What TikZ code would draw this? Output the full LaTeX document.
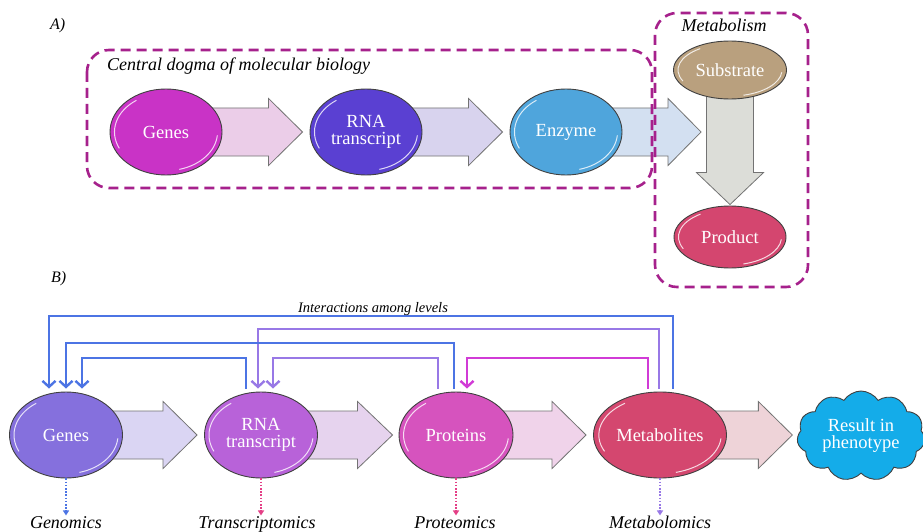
\documentclass[tikz,border=0pt]{standalone}
\usepackage{fontspec}
\setmainfont{Liberation Serif}
\usetikzlibrary{calc,shapes.geometric,shapes.symbols,arrows.meta}

% fills of the ellipses
\definecolor{cGenesA}{HTML}{C933C6}
\definecolor{cRnaA}{HTML}{5A40D2}
\definecolor{cEnzyme}{HTML}{4FA5DC}
\definecolor{cSubstrate}{HTML}{B9A07E}
\definecolor{cProduct}{HTML}{D4466F}
\definecolor{cGenesB}{HTML}{8570DD}
\definecolor{cRnaB}{HTML}{B862D9}
\definecolor{cProtB}{HTML}{D653BE}
\definecolor{cMetB}{HTML}{D4476F}
\definecolor{cCloud}{HTML}{14ACE9}
% block arrow fills
\definecolor{fA1}{HTML}{EBCDE8}
\definecolor{fA2}{HTML}{D8D3EE}
\definecolor{fA3}{HTML}{D3E0F1}
\definecolor{fDown}{HTML}{DCDDD8}
\definecolor{fB1}{HTML}{DAD5F3}
\definecolor{fB2}{HTML}{E6D3EE}
\definecolor{fB3}{HTML}{F0D3EA}
\definecolor{fB4}{HTML}{EED3D8}
% lines
\definecolor{cDash}{HTML}{A6218C}
\definecolor{cBlue}{HTML}{4C74E4}
\definecolor{cViolet}{HTML}{9878E6}
\definecolor{cMagenta}{HTML}{D13BD6}
\definecolor{cPink}{HTML}{E43F86}

\pgfdeclarelayer{bg}
\pgfdeclarelayer{flow}
\pgfsetlayers{bg,flow,main}

% horizontal block arrow: fill, start point, tip point, head length
\newcommand\fatarrow[4]{%
  \draw[fatline, fill=#1] let \p1=(#2), \p2=(#3) in
    (\x1,\y1+24pt) -- (\x2-#4,\y1+24pt) -- (\x2-#4,\y1+33.5pt) -- (\x2,\y1)
    -- (\x2-#4,\y1-33.5pt) -- (\x2-#4,\y1-24pt) -- (\x1,\y1-24pt) -- cycle;}

\tikzset{
  fatline/.style={draw=black!55, line width=0.8pt, line join=miter},
  gloss/.style={path picture={
    \draw[white, opacity=.8, line width=1pt]
      let \p1=(path picture bounding box.north east),
          \p2=(path picture bounding box.center),
          \n1={0.92*(\x1-\x2)}, \n2={0.9*(\y1-\y2)} in
      ($(\p2)+(125:\n1 and \n2)$)
        arc[start angle=125, end angle=205, x radius=\n1, y radius=\n2]
      ($(\p2)+(-75:\n1 and \n2)$)
        arc[start angle=-75, end angle=-5, x radius=\n1, y radius=\n2];}},
  bubble/.style={ellipse, draw=black!75, line width=0.9pt, text=white,
    align=center, inner sep=0pt, gloss,
    font=\fontsize{18.5}{17}\selectfont},
  dashbox/.style={draw=cDash, line width=2.6pt, dash pattern=on 10pt off 6pt,
    rounded corners=22pt},
  fb/.style={line width=2.4pt, line cap=butt,
    -{Straight Barb[length=6pt,width=13pt]}},
  omic/.style={line width=1.6pt, dash pattern=on 1.6pt off 1.6pt,
    -{Triangle[length=5pt,width=6pt]}},
  itlabel/.style={inner sep=0pt, font=\itshape\fontsize{18}{18}\selectfont},
}

\begin{document}
\begin{tikzpicture}[x=1pt,y=-1pt]
\useasboundingbox (0,0) rectangle (923,532);
\begin{pgfonlayer}{bg}
  \fill[white] (0,0) rectangle (923,532);
\end{pgfonlayer}

% ---------------- A) central dogma and metabolism ----------------
\node[itlabel, anchor=base west, font=\itshape\fontsize{16}{16}\selectfont] (labA) at (50,30) {A)};

\node[bubble, fill=cGenesA, minimum width=112, minimum height=86] (genesA) at (166,132) {Genes};
\node[bubble, fill=cRnaA, minimum width=112, minimum height=86] (rnaA) at (366,132) {RNA\\transcript};
\node[bubble, fill=cEnzyme, minimum width=112, minimum height=86] (enzA) at (566,132) {Enzyme};
\node[bubble, fill=cSubstrate, minimum width=113, minimum height=58] (subst) at (730,70) {Substrate};
\node[bubble, fill=cProduct, minimum width=112, minimum height=62] (prod) at (730,237) {Product};

\begin{pgfonlayer}{flow}
  \fatarrow{fA1}{genesA.center}{$(rnaA.west)+(-7,0)$}{34pt}
  \fatarrow{fA2}{rnaA.center}{$(enzA.west)+(-7,0)$}{34pt}
  \fatarrow{fA3}{enzA.center}{$(subst.west)+(28,0)$}{33pt}
  \draw[fatline, fill=fDown] let \p1=(subst.center), \p2=($(prod.north)+(0,-1)$) in
    (\x1-23.5pt,\y1) -- (\x1-23.5pt,\y2+32pt) -- (\x1-33.5pt,\y2+32pt) -- (\x1,\y2)
    -- (\x1+33.5pt,\y2+32pt) -- (\x1+23.5pt,\y2+32pt) -- (\x1+23.5pt,\y1) -- cycle;
\end{pgfonlayer}

\draw[dashbox] (87,50) rectangle (652,188);
\draw[dashbox] (655,13) rectangle (808,287);
\node[itlabel, anchor=base west] (dogmaLabel) at (107,71) {Central dogma of molecular biology};
\node[itlabel, anchor=base] (metabLabel) at (724,32) {Metabolism};

% ---------------- B) omics levels ----------------
\node[itlabel, anchor=base west, font=\itshape\fontsize{16}{16}\selectfont] (labB) at (51,282) {B)};

\node[bubble, fill=cGenesB, minimum width=113, minimum height=86] (genesB) at (66,435) {Genes};
\node[bubble, fill=cRnaB, minimum width=113, minimum height=86] (rnaB) at (261,435) {RNA\\transcript};
\node[bubble, fill=cProtB, minimum width=114, minimum height=86] (protB) at (456,435) {Proteins};
\node[bubble, fill=cMetB, minimum width=133, minimum height=86] (metB) at (660,435) {Metabolites};
\node[cloud, cloud puffs=11, cloud puff arc=115, aspect=1.45, draw=black!75,
  line width=0.9pt, fill=cCloud, text=white, align=center, inner sep=0pt,
  minimum width=128, minimum height=90, font=\fontsize{18.5}{17}\selectfont]
  (pheno) at (861,436) {Result in\\phenotype};

\begin{pgfonlayer}{flow}
  \fatarrow{fB1}{genesB.center}{$(rnaB.west)+(-7,0)$}{34pt}
  \fatarrow{fB2}{rnaB.center}{$(protB.west)+(-6,0)$}{35pt}
  \fatarrow{fB3}{protB.center}{$(metB.west)+(-7,0)$}{34pt}
  \fatarrow{fB4}{metB.center}{$(pheno.west)+(-5,0)$}{34pt}
\end{pgfonlayer}

% levels of the feedback lines
\coordinate (lv1) at (0,316);
\coordinate (lv2) at (0,329);
\coordinate (lv3) at (0,343);
\coordinate (lv4) at (0,358);
% start and end points of the feedback lines
\coordinate (s1) at ($(metB.north)+(13,-3)$);   \coordinate (e1) at ($(genesB.north)+(-17,-3)$);
\coordinate (s2) at ($(metB.north)+(-1,-3)$);   \coordinate (e2) at ($(rnaB.north)+(-3,-3)$);
\coordinate (s3) at ($(protB.north)+(-2,-3)$);  \coordinate (e3) at ($(genesB.north)+(0,-3)$);
\coordinate (s4) at ($(rnaB.north)+(-15,-3)$);  \coordinate (e4) at ($(genesB.north)+(16,-3)$);
\coordinate (s5) at ($(protB.north)+(-18,-3)$); \coordinate (e5) at ($(rnaB.north)+(12,-3)$);
\coordinate (s6) at ($(metB.north)+(-12,-3)$);  \coordinate (e6) at ($(protB.north)+(11,-3)$);

\draw[fb, draw=cBlue]    (s1) -- (s1 |- lv1) -- (e1 |- lv1) -- (e1);
\draw[fb, draw=cViolet]  (s2) -- (s2 |- lv2) -- (e2 |- lv2) -- (e2);
\draw[fb, draw=cBlue]    (s3) -- (s3 |- lv3) -- (e3 |- lv3) -- (e3);
\draw[fb, draw=cBlue]    (s4) -- (s4 |- lv4) -- (e4 |- lv4) -- (e4);
\draw[fb, draw=cViolet]  (s5) -- (s5 |- lv4) -- (e5 |- lv4) -- (e5);
\draw[fb, draw=cMagenta] (s6) -- (s6 |- lv4) -- (e6 |- lv4) -- (e6);

\node[itlabel, anchor=base, font=\itshape\fontsize{14.5}{14.5}\selectfont] (interLabel) at (373,312) {Interactions among levels};

% omics disciplines below each level
\node[itlabel, anchor=base] (genomics) at (66,528) {Genomics};
\node[itlabel, anchor=base] (transcriptomics) at (257,528) {Transcriptomics};
\node[itlabel, anchor=base] (proteomics) at (455,528) {Proteomics};
\node[itlabel, anchor=base] (metabolomics) at (660,528) {Metabolomics};

\draw[omic, draw=cBlue]   (genesB.south) -- ($(genesB.south)+(0,37)$);
\draw[omic, draw=cPink]   (rnaB.south)   -- ($(rnaB.south)+(0,37)$);
\draw[omic, draw=cPink]   (protB.south)  -- ($(protB.south)+(0,37)$);
\draw[omic, draw=cViolet] (metB.south)   -- ($(metB.south)+(0,37)$);
\end{tikzpicture}
\end{document}
